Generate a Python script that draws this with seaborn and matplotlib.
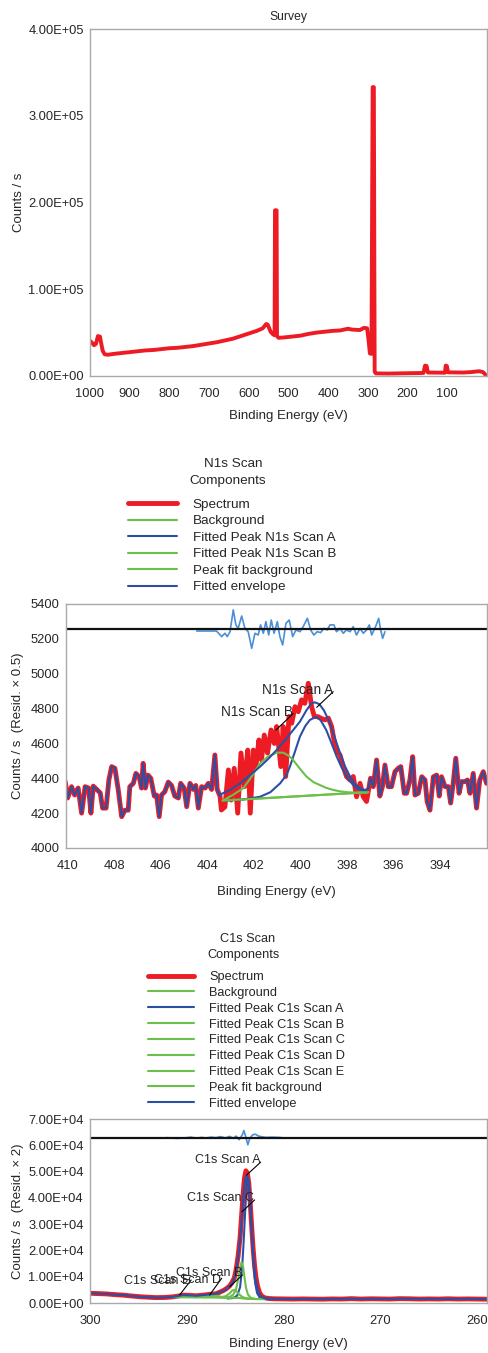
import matplotlib
matplotlib.use("Agg")
import matplotlib.pyplot as plt
import seaborn as sns
from matplotlib.ticker import FuncFormatter, MultipleLocator

# ---------------- survey ----------------
survey_ev = [1000, 995, 990, 985, 980, 975, 972, 968, 963, 955, 940, 920, 900, 880, 860,
             840, 820, 800, 780, 760, 740, 720, 700, 680, 660, 640, 620, 600, 580, 565,
             556, 552, 545, 539, 535, 534, 530, 529, 525, 510, 490, 470, 450, 430, 410,
             390, 370, 350, 340, 320, 310, 302, 298, 295, 291, 288, 285, 283, 280, 250,
             200, 160, 156, 152, 149, 106, 104, 101, 98, 60, 40, 20, 10, 3]
survey_counts = [40500, 38500, 35500, 37000, 46000, 45500, 38000, 29000, 25000, 24500,
                 25500, 26500, 27500, 28500, 29500, 30000, 31000, 32000, 32500, 33500,
                 34500, 36000, 37500, 39000, 41000, 43000, 46000, 49000, 52000, 55000,
                 60000, 59000, 51000, 48000, 47000, 191000, 191000, 46000, 44000, 44500,
                 45500, 46500, 48500, 50000, 51000, 52000, 52500, 54500, 53500, 53000,
                 55500, 55000, 40000, 26000, 25500, 333000, 333000, 5000, 3000, 2800,
                 3200, 3500, 12000, 11500, 4000, 3800, 12000, 11500, 4200, 4000, 4500,
                 5500, 4500, 1000]

# ---------------- N1s ----------------
n1s_ev = [410.10, 410.00, 409.83, 409.70, 409.55, 409.40, 409.25, 409.10, 409.00, 408.90,
          408.75, 408.60, 408.50, 408.35, 408.23, 408.11, 407.97, 407.83, 407.68, 407.54,
          407.40, 407.33, 407.18, 407.07, 406.93, 406.83, 406.76, 406.66, 406.55, 406.43,
          406.28, 406.18, 406.07, 405.97, 405.83, 405.68, 405.54, 405.40, 405.25, 405.15,
          405.00, 404.89, 404.75, 404.60, 404.50, 404.39, 404.25, 404.10, 403.96, 403.82,
          403.68, 403.58, 403.46, 403.40, 403.25, 403.10, 402.98, 402.85, 402.70, 402.56,
          402.41, 402.27, 402.16, 402.03, 401.92, 401.79, 401.68, 401.56, 401.42, 401.27,
          401.13, 401.03, 400.85, 400.75, 400.64, 400.50, 400.38, 400.24, 400.10, 399.96,
          399.82, 399.67, 399.53, 399.41, 399.27, 399.13, 398.96, 398.81, 398.67, 398.53,
          398.38, 398.31, 398.17, 398.03, 397.88, 397.74, 397.60, 397.45, 397.31, 397.17,
          397.00, 396.88, 396.74, 396.60, 396.49, 396.38, 396.24, 396.10, 395.95, 395.81,
          395.70, 395.55, 395.45, 395.31, 395.19, 395.09, 394.95, 394.80, 394.66, 394.57,
          394.45, 394.30, 394.16, 394.05, 393.95, 393.80, 393.66, 393.56, 393.45, 393.34,
          393.20, 393.09, 392.95, 392.84, 392.73, 392.59, 392.45, 392.31, 392.16, 392.02]
n1s_counts = [4380, 4287, 4352, 4304, 4344, 4200, 4352, 4344, 4200, 4355,
              4336, 4316, 4229, 4229, 4390, 4467, 4457, 4336, 4180, 4217,
              4217, 4352, 4371, 4428, 4409, 4344, 4486, 4344, 4418, 4400,
              4298, 4304, 4180, 4304, 4323, 4378, 4359, 4298, 4287, 4371,
              4344, 4237, 4371, 4336, 4359, 4229, 4352, 4344, 4371, 4336,
              4534, 4336, 4298, 4218, 4236, 4448, 4275, 4457, 4200, 4545,
              4352, 4562, 4200, 4562, 4467, 4620, 4505, 4648, 4545, 4677,
              4600, 4697, 4467, 4697, 4410, 4754, 4716, 4811, 4782, 4850,
              4830, 4945, 4811, 4754, 4754, 4745, 4735, 4745, 4697, 4590,
              4545, 4534, 4467, 4410, 4390, 4410, 4294, 4371, 4294, 4267,
              4400, 4352, 4505, 4298, 4352, 4476, 4352, 4352, 4438, 4457,
              4467, 4314, 4314, 4390, 4524, 4304, 4314, 4409, 4390, 4267,
              4217, 4409, 4418, 4298, 4409, 4352, 4352, 4258, 4371, 4515,
              4314, 4381, 4381, 4390, 4314, 4428, 4229, 4390, 4438, 4371]

n1s_env_ev = [403.40, 403.00, 402.60, 402.20, 401.74, 401.40, 401.03, 400.60, 400.30, 400.03,
              399.75, 399.55, 399.40, 399.20, 399.00, 398.74, 398.50, 398.31, 398.10, 397.88,
              397.65, 397.45, 397.25, 397.10]
n1s_env_counts = [4310, 4335, 4371, 4415, 4467, 4510, 4562, 4630, 4680, 4725,
                  4790, 4828, 4836, 4826, 4790, 4717, 4620, 4545, 4470, 4410,
                  4365, 4343, 4333, 4340]

n1s_a_ev = [403.30, 402.50, 401.74, 401.30, 400.88, 400.60, 400.46, 400.25, 400.03, 399.80,
            399.60, 399.35, 399.15, 398.90, 398.70, 398.45, 398.25, 398.02, 397.80, 397.60,
            397.35, 397.16]
n1s_a_counts = [4272, 4278, 4294, 4320, 4371, 4420, 4467, 4550, 4639, 4700,
                4735, 4752, 4735, 4677, 4610, 4524, 4465, 4410, 4370, 4343,
                4330, 4324]

n1s_b_ev = [403.30, 402.90, 402.46, 402.10, 401.74, 401.40, 401.03, 400.74, 400.50, 400.32,
            400.05, 399.75, 399.45, 399.17, 398.90, 398.60, 398.30, 398.02, 397.60, 397.16]
n1s_b_counts = [4275, 4305, 4343, 4410, 4486, 4525, 4547, 4547, 4528, 4505,
                4458, 4410, 4378, 4361, 4345, 4333, 4325, 4320, 4318, 4318]

n1s_bg_ev = [403.35, 397.10]
n1s_bg_counts = [4272, 4320]

n1s_resid_ev = [404.46, 403.61, 403.39, 403.25, 403.15, 403.03, 402.89, 402.78, 402.68, 402.53,
                402.39, 402.25, 402.10, 401.96, 401.82, 401.72, 401.60, 401.49, 401.37, 401.26,
                401.14, 401.00, 400.89, 400.77, 400.63, 400.49, 400.34, 400.20, 400.03, 399.89,
                399.71, 399.57, 399.43, 399.29, 399.14, 399.00, 398.86, 398.74, 398.57, 398.46,
                398.31, 398.17, 398.03, 397.88, 397.74, 397.60, 397.45, 397.31, 397.17, 397.05,
                396.95, 396.85, 396.77, 396.65, 396.57, 396.48, 396.38]
n1s_resid = [5245, 5245, 5213, 5232, 5213, 5241, 5366, 5280, 5260, 5331,
             5260, 5241, 5146, 5232, 5222, 5280, 5232, 5299, 5222, 5308,
             5232, 5299, 5213, 5165, 5289, 5308, 5213, 5251, 5241, 5270,
             5318, 5251, 5222, 5241, 5236, 5260, 5251, 5280, 5280, 5241,
             5260, 5232, 5251, 5241, 5270, 5222, 5260, 5232, 5251, 5280,
             5222, 5251, 5274, 5318, 5255, 5203, 5241]
n1s_zero = 5255

# ---------------- C1s ----------------
c1s_ev = [300.0, 299.0, 298.3, 297.5, 296.6, 295.8, 294.9, 294.0, 293.2, 292.3,
          291.4, 290.8, 290.4, 289.7, 289.0, 288.3, 287.6, 287.0, 286.6, 286.2,
          285.9, 285.6, 285.4, 285.1, 284.9, 284.7, 284.5, 284.35, 284.2, 284.05,
          283.9, 283.75, 283.6, 283.45, 283.3, 283.15, 283.0, 282.85, 282.7, 282.5,
          282.3, 282.0, 281.5, 281.0, 280.0, 279.0, 278.0, 277.0, 276.0, 275.0,
          274.0, 273.0, 272.0, 271.0, 270.0, 269.0, 268.0, 267.0, 266.0, 265.0,
          264.0, 263.0, 262.0, 261.0, 260.0, 259.0]
c1s_counts = [3700, 3550, 3450, 3200, 3000, 2700, 2400, 2200, 2050, 2100,
              2350, 2700, 3000, 2900, 2750, 3000, 3300, 3500, 4100, 4800,
              5500, 6400, 7400, 9500, 13000, 18000, 25000, 33000, 41000, 47500,
              50300, 49500, 45500, 38000, 29000, 20500, 14000, 9500, 6500, 4000,
              2800, 2000, 1700, 1600, 1550, 1500, 1550, 1500, 1450, 1550,
              1500, 1650, 1500, 1600, 1550, 1500, 1650, 1600, 1500, 1550,
              1500, 1600, 1500, 1550, 1500, 1450]

c1s_env_ev = [286.5, 286.0, 285.6, 285.3, 285.0, 284.8, 284.6, 284.4, 284.25, 284.1,
              283.95, 283.8, 283.65, 283.5, 283.35, 283.2, 283.05, 282.9, 282.7, 282.5,
              282.2, 281.8]
c1s_env_counts = [4200, 5000, 6300, 7800, 10500, 14500, 20500, 28500, 36000, 43000,
                  47500, 48800, 46500, 40000, 31000, 22000, 14500, 9000, 5200, 3200,
                  2100, 1700]

c1s_a_ev = [285.8, 285.2, 284.8, 284.5, 284.3, 284.15, 284.0, 283.85, 283.7, 283.55,
            283.4, 283.25, 283.1, 282.95, 282.75, 282.5, 282.0, 281.5]
c1s_a_counts = [1700, 1900, 2800, 6000, 13000, 22000, 33000, 43500, 48000, 44500,
                35000, 24000, 14500, 7800, 3800, 2200, 1600, 1500]

c1s_b_ev = [286.6, 286.0, 285.6, 285.3, 285.1, 284.9, 284.6, 284.3, 284.0, 283.5, 283.0]
c1s_b_counts = [2100, 2600, 3600, 4800, 5000, 4500, 3300, 2400, 1900, 1600, 1500]

c1s_c_ev = [286.2, 285.6, 285.2, 284.9, 284.7, 284.5, 284.35, 284.2, 284.05, 283.9,
            283.7, 283.4, 283.0, 282.6]
c1s_c_counts = [1900, 2300, 3200, 5500, 9000, 13500, 15500, 14000, 10000, 6000,
                3300, 2000, 1600, 1500]

c1s_d_ev = [289.0, 288.2, 287.6, 287.3, 287.0, 286.5, 286.0, 285.5]
c1s_d_counts = [2300, 2500, 3000, 3100, 2900, 2400, 2100, 1900]

c1s_e_ev = [291.2, 290.5, 290.0, 289.6, 289.2, 288.6, 288.0]
c1s_e_counts = [2250, 2450, 2700, 2800, 2650, 2350, 2200]

c1s_bg_ev = [291.5, 289.0, 287.0, 285.5, 284.5, 284.0, 283.5, 283.0, 282.0]
c1s_bg_counts = [2250, 2200, 2150, 2050, 1900, 1750, 1600, 1520, 1500]

c1s_resid_ev = [292.5, 292.0, 291.0, 290.0, 289.6, 289.0, 288.5, 288.0, 287.5, 287.0,
                286.5, 286.0, 285.6, 285.2, 284.9, 284.6, 284.3, 284.1, 283.9, 283.7,
                283.5, 283.2, 282.9, 282.6, 282.2, 281.8, 281.2, 280.5, 280.2]
c1s_resid = [62700, 62900, 62600, 62900, 63100, 62700, 63000, 62800, 63100, 62900,
             63300, 62800, 63400, 62700, 63500, 62100, 63800, 65600, 63000, 60200,
             62600, 64000, 64200, 63500, 63200, 63000, 63100, 63000, 62900]
c1s_zero = 62900

RED = "#ed1c24"
BLUE = "#2d4fa3"
GREEN = "#6cbf4a"
RESID = "#4a8fd6"
SPINE = "#a9a9a9"

sns.set_style("white")
plt.rcParams["font.family"] = ["Liberation Sans", "DejaVu Sans"]

W, H = 488, 1353
fig = plt.figure(figsize=(W / 100, H / 100), dpi=100)


def make_axes(left, top, right, bottom):
    return fig.add_axes([left / W, 1 - bottom / H, (right - left) / W, (bottom - top) / H])


def style_axes(ax, xlab_px, ylab_px, h_px, left_px):
    for s in ax.spines.values():
        s.set_color(SPINE)
        s.set_linewidth(1.0)
    ax.tick_params(which="both", direction="out", color=SPINE, labelsize=9.3, pad=1.5)
    ax.tick_params(which="major", length=3)
    ax.tick_params(which="minor", length=2.5)
    ax.tick_params(axis="x", pad=5.5)
    w_px = 487 - left_px
    ax.xaxis.set_label_coords(0.5, -xlab_px / h_px)
    ax.yaxis.set_label_coords((ylab_px - left_px) / w_px, 0.5)


def line(ax, x, y, color, lw, label=None):
    sns.lineplot(x=x, y=y, ax=ax, color=color, lw=lw, estimator=None, sort=False,
                 legend=False, label=label)


def components(ax, x_px, top_px, size, title_x, title_y):
    h, l = ax.get_legend_handles_labels()
    ax.legend(h, l, loc="upper left", bbox_to_anchor=(x_px / W, 1 - top_px / H),
              bbox_transform=fig.transFigure, frameon=False, fontsize=size,
              handlelength=3.6, handletextpad=1.2, labelspacing=0.3,
              borderpad=0, borderaxespad=0)
    fig.text(title_x[0] / W, 1 - title_y[0] / H, title_x[2], ha="center", va="center",
             fontsize=size)
    fig.text(title_x[1] / W, 1 - title_y[1] / H, "Components", ha="center", va="center",
             fontsize=size)


sci = FuncFormatter(lambda v, p: f"{v:.2E}")

# ---- Survey panel ----
ax1 = make_axes(90, 29, 487, 376)
line(ax1, survey_ev, survey_counts, RED, 2.8)
ax1.set_xlim(1000, 0)
ax1.set_ylim(0, 4e5)
ax1.set_xticks(list(range(1000, 0, -100)))
ax1.xaxis.set_minor_locator(MultipleLocator(50))
ax1.yaxis.set_major_locator(MultipleLocator(1e5))
ax1.yaxis.set_minor_locator(MultipleLocator(5e4))
ax1.yaxis.set_major_formatter(sci)
ax1.set_title("Survey", fontsize=8.7, pad=6.5)
ax1.set_xlabel("Binding Energy (eV)", fontsize=9.5)
ax1.set_ylabel("Counts / s", fontsize=9.5)
style_axes(ax1, 34.5, 24.5, 347, 90)

# ---- N1s panel ----
ax2 = make_axes(66, 604, 487, 848)
line(ax2, n1s_ev, n1s_counts, RED, 3.5, "Spectrum")
line(ax2, n1s_bg_ev, n1s_bg_counts, GREEN, 1.5, "Background")
line(ax2, n1s_a_ev, n1s_a_counts, BLUE, 1.5, "Fitted Peak N1s Scan A")
line(ax2, n1s_b_ev, n1s_b_counts, GREEN, 1.5, "Fitted Peak N1s Scan B")
line(ax2, n1s_bg_ev, n1s_bg_counts, GREEN, 1.5, "Peak fit background")
env_x = [e for e in n1s_ev if e > 403.42] + n1s_env_ev + [e for e in n1s_ev if e < 397.05]
env_y = ([c for e, c in zip(n1s_ev, n1s_counts) if e > 403.42] + n1s_env_counts
         + [c for e, c in zip(n1s_ev, n1s_counts) if e < 397.05])
line(ax2, env_x, env_y, BLUE, 1.5, "Fitted envelope")
line(ax2, n1s_resid_ev, n1s_resid, RESID, 1.2)
ax2.axhline(n1s_zero, color="#111111", lw=1.6)
ax2.set_xlim(410.07, 392.0)
ax2.set_ylim(4000, 5400)
ax2.set_xticks(list(range(410, 393, -2)))
ax2.xaxis.set_minor_locator(MultipleLocator(1))
ax2.yaxis.set_major_locator(MultipleLocator(200))
ax2.yaxis.set_minor_locator(MultipleLocator(100))
ax2.set_xlabel("Binding Energy (eV)", fontsize=9.5)
ax2.set_ylabel("Counts / s  (Resid. \u00d7 0.5)", fontsize=9.5)
style_axes(ax2, 38.5, 24.5, 244, 66)

kw = dict(ha="right", va="center", fontsize=9.8)
ax2.text(398.62, 4905, "N1s Scan A", **kw)
ax2.plot([398.6, 399.31], [4897, 4807], color="black", lw=0.8)
ax2.text(400.34, 4778, "N1s Scan B", **kw)
ax2.plot([400.32, 401.06], [4771, 4677], color="black", lw=0.8)

components(ax2, 128, 498.5, 9.7, (233, 227.5, "N1s Scan"), (464, 481))

# ---- C1s panel ----
ax3 = make_axes(90, 1119, 487, 1303)
line(ax3, c1s_ev, c1s_counts, RED, 3.5, "Spectrum")
line(ax3, c1s_bg_ev, c1s_bg_counts, GREEN, 1.5, "Background")
line(ax3, c1s_a_ev, c1s_a_counts, BLUE, 1.5, "Fitted Peak C1s Scan A")
line(ax3, c1s_b_ev, c1s_b_counts, GREEN, 1.5, "Fitted Peak C1s Scan B")
line(ax3, c1s_c_ev, c1s_c_counts, GREEN, 1.5, "Fitted Peak C1s Scan C")
line(ax3, c1s_d_ev, c1s_d_counts, GREEN, 1.5, "Fitted Peak C1s Scan D")
line(ax3, c1s_e_ev, c1s_e_counts, GREEN, 1.5, "Fitted Peak C1s Scan E")
line(ax3, c1s_bg_ev, c1s_bg_counts, GREEN, 1.5, "Peak fit background")
cenv_x = [e for e in c1s_ev if e > 286.55] + c1s_env_ev + [e for e in c1s_ev if e < 281.75]
cenv_y = ([c for e, c in zip(c1s_ev, c1s_counts) if e > 286.55] + c1s_env_counts
          + [c for e, c in zip(c1s_ev, c1s_counts) if e < 281.75])
line(ax3, cenv_x, cenv_y, BLUE, 1.5, "Fitted envelope")
line(ax3, c1s_resid_ev, c1s_resid, RESID, 1.2)
ax3.axhline(c1s_zero, color="#111111", lw=1.6)
ax3.set_xlim(300, 259)
ax3.set_ylim(0, 7e4)
ax3.xaxis.set_major_locator(MultipleLocator(10))
ax3.xaxis.set_minor_locator(MultipleLocator(5))
ax3.yaxis.set_major_locator(MultipleLocator(1e4))
ax3.yaxis.set_minor_locator(MultipleLocator(5e3))
ax3.yaxis.set_major_formatter(sci)
ax3.set_xlabel("Binding Energy (eV)", fontsize=9.5)
ax3.set_ylabel("Counts / s  (Resid. \u00d7 2)", fontsize=9.5)
style_axes(ax3, 35.5, 24.5, 184, 90)

kw["fontsize"] = 9.0
ax3.text(282.4, 54300, "C1s Scan A", **kw)
ax3.plot([282.37, 283.82], [53600, 48700], color="black", lw=0.8)
ax3.text(283.05, 39900, "C1s Scan C", **kw)
ax3.plot([283.0, 284.3], [39200, 34700], color="black", lw=0.8)
ax3.text(289.6, 8500, "C1s Scan E", **kw)
ax3.plot([289.55, 290.75], [8750, 3040], color="black", lw=0.8)
ax3.text(286.45, 8700, "C1s Scan D", **kw)
ax3.plot([286.4, 287.65], [9400, 3040], color="black", lw=0.8)
ax3.text(284.3, 11300, "C1s Scan B", **kw)
ax3.plot([284.26, 285.57], [10650, 6200], color="black", lw=0.8)

components(ax3, 148, 971, 9.2, (248, 243, "C1s Scan"), (939, 955))

fig.savefig("out.png", dpi=100)
